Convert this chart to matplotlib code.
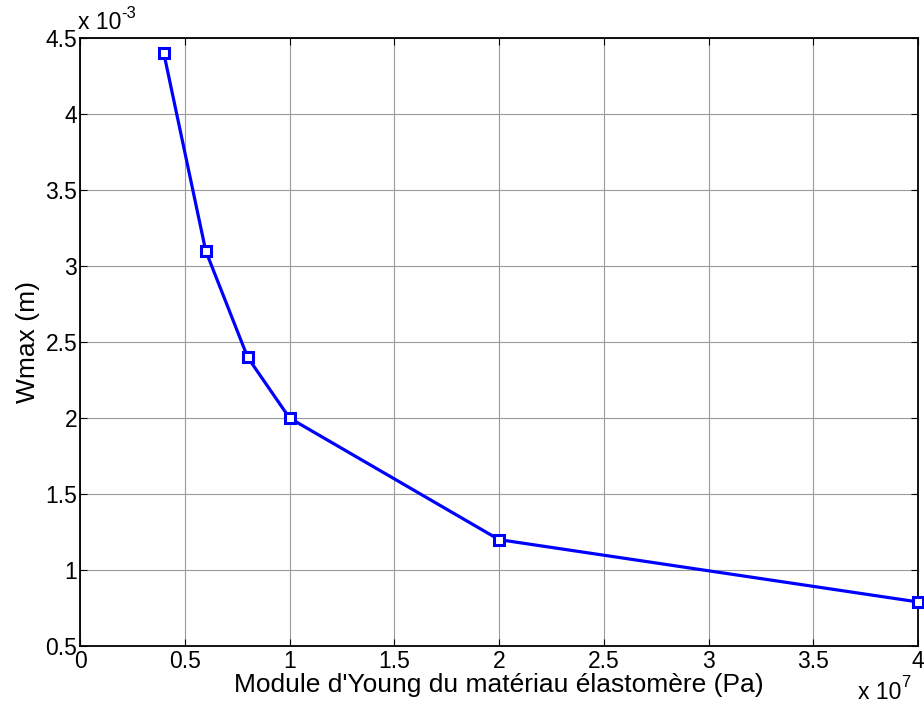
import matplotlib.pyplot as plt

plt.rcParams["font.family"] = ["Liberation Sans", "DejaVu Sans"]

# Young's modulus (x 1e7 Pa) and max deflection (x 1e-3 m)
young = [0.4, 0.6, 0.8, 1.0, 2.0, 4.0]
wmax = [4.4, 3.1, 2.4, 2.0, 1.2, 0.79]

fig = plt.figure(figsize=(9.24, 7.1), dpi=100)
ax = fig.add_axes([0.0866, 0.0901, 0.9069, 0.8564])

ax.plot(young, wmax, color="#0000ff", lw=2.3, marker="s", ms=6.5,
        mfc="white", mec="#0000ff", mew=2.2, clip_on=False, zorder=5)

ax.set_xlim(0, 4)
ax.set_ylim(0.5, 4.5)
ax.set_xticks([0, 0.5, 1, 1.5, 2, 2.5, 3, 3.5, 4])
ax.set_xticklabels(["0", "0.5", "1", "1.5", "2", "2.5", "3", "3.5", "4"])
ax.set_yticks([0.5, 1, 1.5, 2, 2.5, 3, 3.5, 4, 4.5])
ax.set_yticklabels(["0.5", "1", "1.5", "2", "2.5", "3", "3.5", "4", "4.5"])

ax.grid(True, color="#9a9a9a", linestyle="-", linewidth=0.8)
ax.tick_params(direction="in", top=True, right=True, labelsize=16.5,
               length=5, width=0.8)
ax.tick_params(axis="x", pad=3)
ax.tick_params(axis="y", pad=2)
for s in ax.spines.values():
    s.set_linewidth(1.3)

ax.set_xlabel("Module d'Young du matériau élastomère (Pa)", fontsize=19, labelpad=0)
ax.set_ylabel("Wmax (m)", fontsize=19, labelpad=4)

# exponent labels, MATLAB style
t1 = ax.text(-0.003, 1.006, "x 10", transform=ax.transAxes,
             fontsize=16.5, ha="left", va="bottom")
ax.annotate("-3", xy=(1.0, 0.6), xycoords=t1, fontsize=12,
            ha="left", va="bottom")
t2 = ax.text(0.98, -0.058, "x 10", transform=ax.transAxes,
             fontsize=16.5, ha="right", va="top")
ax.annotate("7", xy=(1.0, 0.6), xycoords=t2, fontsize=12,
            ha="left", va="bottom")

fig.savefig("out.png", dpi=100)
